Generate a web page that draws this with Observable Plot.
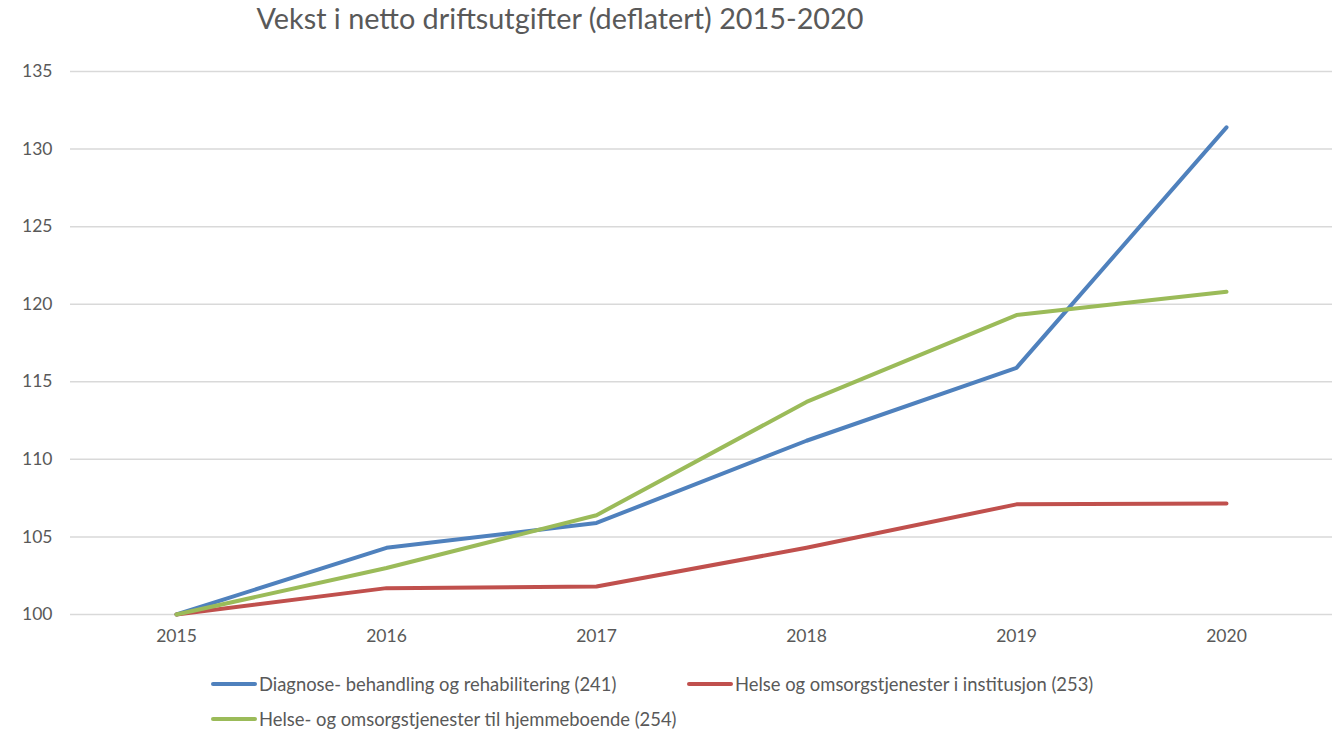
<!DOCTYPE html>
<html>
<head>
<meta charset="utf-8">
<script src="https://cdn.jsdelivr.net/npm/d3@7"></script>
<script src="https://cdn.jsdelivr.net/npm/@observablehq/plot@0.6"></script>
<style>
  body { margin: 0; background: #fff; font-family: Lato, "Open Sans", sans-serif; }
  #wrap { position: relative; width: 1335px; height: 731px; overflow: hidden; }
  #title { position: absolute; left: 0; top: 1px; width: 1120px; text-align: center; font-size: 28.8px; color: #595959; }
  #chart { position: absolute; left: 0; top: 0; }
  .leg { position: absolute; font-size: 18.4px; color: #595959; display: flex; align-items: center; white-space: nowrap; }
  .sw { width: 46px; height: 4px; border-radius: 2px; margin-right: 2px; }
</style>
</head>
<body>
<div id="wrap">
  <div id="chart"></div>
  <div id="title">Vekst i netto driftsutgifter (deflatert) 2015-2020</div>
  <div id="legend"></div>
</div>
<script>
const years = ["2015", "2016", "2017", "2018", "2019", "2020"];
const seriesNames = [
  "Diagnose- behandling og rehabilitering (241)",
  "Helse og omsorgstjenester i institusjon (253)",
  "Helse- og omsorgstjenester til hjemmeboende (254)"
];
const diagnose = [100, 104.3, 105.9, 111.2, 115.9, 131.4];
const institusjon = [100, 101.7, 101.8, 104.3, 107.1, 107.15];
const hjemmeboende = [100, 103.0, 106.4, 113.7, 119.3, 120.8];
const colors = ["#4f81bd", "#c0504d", "#9bbb59"];
const yTicks = [100, 105, 110, 115, 120, 125, 130, 135];

const allSeries = [diagnose, institusjon, hjemmeboende];
const data = [];
allSeries.forEach((vals, i) => vals.forEach((v, j) => data.push({year: years[j], value: v, series: seriesNames[i]})));

const plot = Plot.plot({
  width: 1335,
  height: 660,
  marginTop: 71,
  marginBottom: 46,
  marginLeft: 70,
  marginRight: 3,
  style: {fontFamily: "Lato, 'Open Sans', sans-serif", fontSize: "17.5px", color: "#595959", background: "transparent"},
  x: {type: "point", domain: years, padding: 0.5, label: null, tickSize: 0, tickPadding: 15},
  y: {domain: [100, 135], ticks: yTicks, label: null, tickSize: 0, tickPadding: 18, tickFormat: d => String(d)},
  color: {domain: seriesNames, range: colors},
  marks: [
    Plot.ruleY(yTicks, {stroke: "#d9d9d9", strokeWidth: 1.5}),
    Plot.line(data, {x: "year", y: "value", stroke: "series", strokeWidth: 4, strokeLinecap: "round", strokeLinejoin: "round"})
  ]
});
plot.querySelectorAll("[aria-label='y-axis tick label'] text, [aria-label='x-axis tick label'] text").forEach(t => t.setAttribute("fill", "#595959"));
document.getElementById("chart").appendChild(plot);

const legendPos = [[211, 685], [687, 685], [211, 720]];
const legend = document.getElementById("legend");
seriesNames.forEach((name, i) => {
  const d = document.createElement("div");
  d.className = "leg";
  d.style.left = legendPos[i][0] + "px";
  d.style.top = (legendPos[i][1] - 12) + "px";
  d.innerHTML = `<span class="sw" style="background:${colors[i]}"></span><span>${name}</span>`;
  legend.appendChild(d);
});
</script>
</body>
</html>
